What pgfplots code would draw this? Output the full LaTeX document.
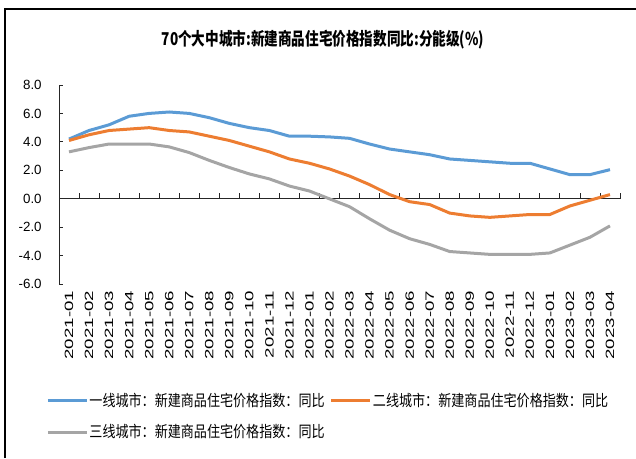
\documentclass[border=0pt]{standalone}
\usepackage{fontspec}
\setmainfont{Liberation Sans}
\newfontfamily\cjk{Noto Sans CJK SC}
\usepackage{graphicx}
\usepackage{pgfplots}
\pgfplotsset{compat=1.18}

\definecolor{c1}{RGB}{91,155,213}
\definecolor{c2}{RGB}{237,125,49}
\definecolor{c3}{RGB}{165,165,165}

\newcommand{\xl}[1]{\scalebox{1.4}[0.9]{#1}}
\newcommand{\legtxt}[1]{{\cjk\scalebox{1}[1.2]{#1}}}

\begin{document}
\begin{tikzpicture}
\useasboundingbox (0,0) rectangle (477pt,343.5pt);
\draw[line width=1.5pt] (3.75pt,0) -- (3.75pt,337pt) -- (477pt,337pt);
\begin{axis}[
  at={(44.25pt,130.3pt)}, anchor=south west,
  scale only axis, width=420.75pt, height=149.5pt,
  xmin=-0.5, xmax=27.5, ymin=-6, ymax=8,
  axis x line=middle, axis y line=left,
  axis line style={-, line width=0.75pt, black!85},
  hide obscured x ticks=false, hide obscured y ticks=false,
  tick align=inside,
  major tick length=3pt, minor tick length=4.5pt,
  tick style={black!85, line width=0.6pt},
  major x tick style={draw=none},
  ytick={-6,-4,...,8},
  yticklabel style={font=\fontsize{10}{12}\selectfont, xshift=-9.5pt,
    /pgf/number format/.cd, fixed, fixed zerofill, precision=1, assume math mode=true},
  xtick={0,...,27},
  minor xtick={0.5,1.5,...,27.5},
  xticklabels={\xl{2021-01},\xl{2021-02},\xl{2021-03},\xl{2021-04},\xl{2021-05},\xl{2021-06},\xl{2021-07},\xl{2021-08},\xl{2021-09},\xl{2021-10},\xl{2021-11},\xl{2021-12},\xl{2022-01},\xl{2022-02},\xl{2022-03},\xl{2022-04},\xl{2022-05},\xl{2022-06},\xl{2022-07},\xl{2022-08},\xl{2022-09},\xl{2022-10},\xl{2022-11},\xl{2022-12},\xl{2023-01},\xl{2023-02},\xl{2023-03},\xl{2023-04}},
  xticklabel style={font=\fontsize{10}{12}\selectfont, yshift=-65.5pt, rotate=90, anchor=east},
  title={\cjk\bfseries\scalebox{1}[1.3]{70个大中城市:新建商品住宅价格指数同比:分能级(\%)}},
  title style={at={(0.4706,1.186)}, anchor=center, font=\fontsize{10.2}{12}\selectfont},
  legend style={at={(-0.03,-0.525)}, anchor=north west, draw=none, fill=none,
    font=\fontsize{9.8}{12}\selectfont, row sep=10pt,
    nodes={inner sep=1pt, anchor=west},
    /tikz/every even column/.append style={column sep=3pt}},
  legend columns=2,
  legend image code/.code={\draw[#1, line width=2.25pt] (0pt,0pt) -- (29pt,0pt);},
  every axis plot/.append style={line width=2.25pt, no markers, line join=round},
]
\addplot[c1] coordinates {(0,4.2)(1,4.8)(2,5.2)(3,5.8)(4,6.0)(5,6.1)(6,6.0)(7,5.7)(8,5.3)(9,5.0)(10,4.8)(11,4.4)(12,4.4)(13,4.35)(14,4.25)(15,3.85)(16,3.5)(17,3.3)(18,3.1)(19,2.8)(20,2.7)(21,2.6)(22,2.5)(23,2.5)(24,2.1)(25,1.7)(26,1.7)(27,2.05)};
\addlegendentry{\legtxt{一线城市：新建商品住宅价格指数：同比}}
\addplot[c2] coordinates {(0,4.1)(1,4.5)(2,4.8)(3,4.9)(4,5.0)(5,4.8)(6,4.7)(7,4.4)(8,4.1)(9,3.7)(10,3.3)(11,2.8)(12,2.5)(13,2.1)(14,1.6)(15,1.0)(16,0.3)(17,-0.2)(18,-0.4)(19,-1.0)(20,-1.2)(21,-1.3)(22,-1.2)(23,-1.1)(24,-1.1)(25,-0.5)(26,-0.1)(27,0.3)};
\addlegendentry{\legtxt{二线城市：新建商品住宅价格指数：同比}}
\addplot[c3] coordinates {(0,3.3)(1,3.6)(2,3.85)(3,3.85)(4,3.85)(5,3.65)(6,3.25)(7,2.7)(8,2.2)(9,1.75)(10,1.4)(11,0.9)(12,0.55)(13,0.0)(14,-0.55)(15,-1.4)(16,-2.2)(17,-2.8)(18,-3.2)(19,-3.7)(20,-3.8)(21,-3.9)(22,-3.9)(23,-3.9)(24,-3.8)(25,-3.25)(26,-2.7)(27,-1.9)};
\addlegendentry{\legtxt{三线城市：新建商品住宅价格指数：同比}}
\end{axis}
\end{tikzpicture}
\end{document}
